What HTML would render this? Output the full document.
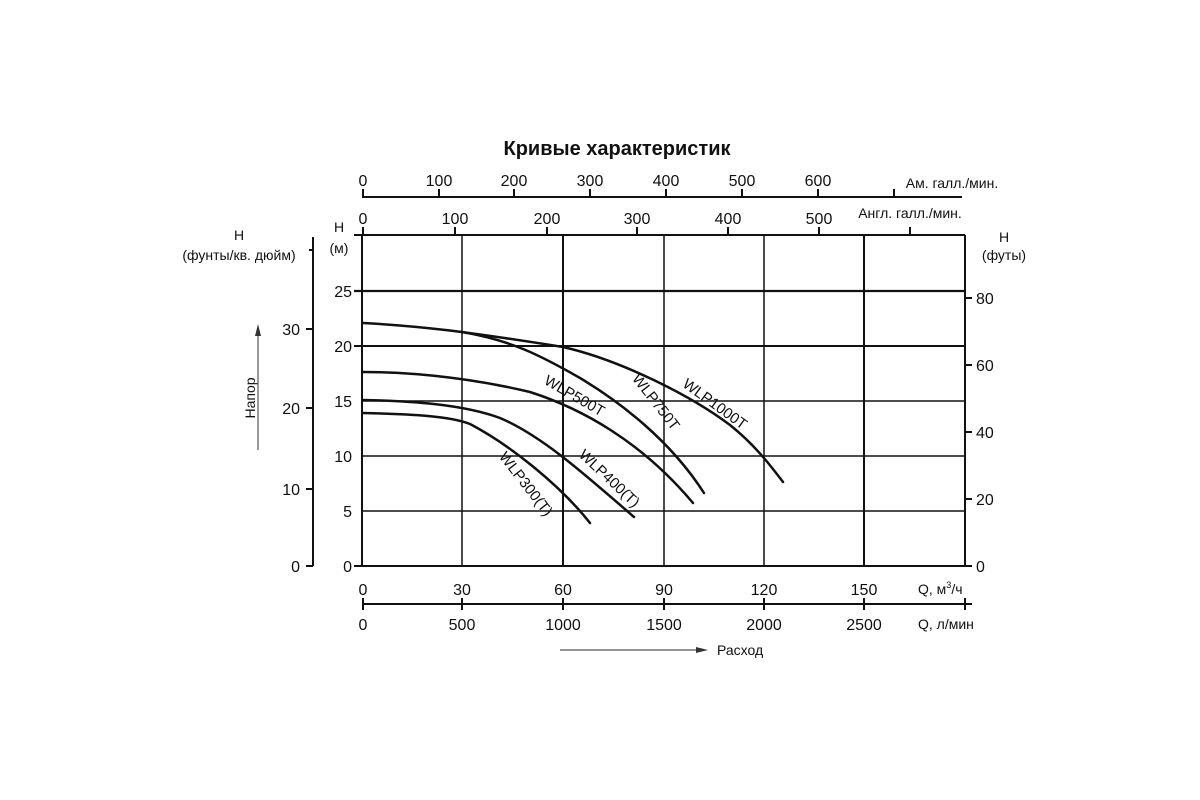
<!DOCTYPE html>
<html><head><meta charset="utf-8"><style>
html,body{margin:0;padding:0;background:#fff;}
svg{display:block;font-family:"Liberation Sans",sans-serif;}
</style></head><body>
<svg width="1200" height="800" viewBox="0 0 1200 800">
<rect width="1200" height="800" fill="#fff"/>
<text x="617" y="155" font-size="20" font-weight="bold" text-anchor="middle" fill="#111">Кривые характеристик</text>
<!-- Am gal axis -->
<g stroke="#111" stroke-width="2">
<line x1="362" y1="197" x2="962" y2="197"/>
<line x1="363" y1="189" x2="363" y2="197"/><line x1="439" y1="189" x2="439" y2="197"/><line x1="514" y1="189" x2="514" y2="197"/><line x1="590" y1="189" x2="590" y2="197"/><line x1="666" y1="189" x2="666" y2="197"/><line x1="742" y1="189" x2="742" y2="197"/><line x1="818" y1="189" x2="818" y2="197"/><line x1="894" y1="189" x2="894" y2="197"/>
</g>
<g font-size="16" fill="#111" text-anchor="middle">
<text x="363" y="186">0</text><text x="439" y="186">100</text><text x="514" y="186">200</text><text x="590" y="186">300</text><text x="666" y="186">400</text><text x="742" y="186">500</text><text x="818" y="186">600</text>
<text x="952" y="188" font-size="14">Ам. галл./мин.</text>
<text x="363" y="224">0</text><text x="455" y="224">100</text><text x="547" y="224">200</text><text x="637" y="224">300</text><text x="728" y="224">400</text><text x="819" y="224">500</text>
<text x="910" y="218" font-size="14">Англ. галл./мин.</text>
</g>
<g stroke="#111" stroke-width="2">
<line x1="363" y1="227" x2="363" y2="235"/><line x1="455" y1="227" x2="455" y2="235"/><line x1="547" y1="227" x2="547" y2="235"/><line x1="637" y1="227" x2="637" y2="235"/><line x1="728" y1="227" x2="728" y2="235"/><line x1="819" y1="227" x2="819" y2="235"/><line x1="910" y1="227" x2="910" y2="235"/>
</g>
<!-- grid -->
<g stroke="#111" stroke-width="1.5">
<line x1="462" y1="235" x2="462" y2="566"/><line x1="563" y1="235" x2="563" y2="566" stroke-width="2"/><line x1="664" y1="235" x2="664" y2="566"/><line x1="764" y1="235" x2="764" y2="566"/><line x1="864" y1="235" x2="864" y2="566" stroke-width="2"/>
<line x1="362" y1="511" x2="965" y2="511"/><line x1="362" y1="456" x2="965" y2="456"/><line x1="362" y1="401" x2="965" y2="401"/>
<line x1="354" y1="346" x2="965" y2="346" stroke-width="2"/><line x1="354" y1="291" x2="965" y2="291" stroke-width="2.2"/>
<line x1="354" y1="235" x2="965" y2="235" stroke-width="2"/>
<line x1="362" y1="235" x2="362" y2="566" stroke-width="2"/><line x1="965" y1="235" x2="965" y2="566" stroke-width="2"/>
<line x1="354" y1="566" x2="972" y2="566" stroke-width="2"/>
</g>
<g font-size="16" fill="#111" text-anchor="end">
<text x="352" y="572">0</text><text x="352" y="517">5</text><text x="352" y="462">10</text><text x="352" y="407">15</text><text x="352" y="352">20</text><text x="352" y="297">25</text>
</g>
<text x="339" y="232" font-size="14" text-anchor="middle" fill="#111">H</text>
<text x="339" y="253" font-size="14" text-anchor="middle" fill="#111">(м)</text>
<!-- psi axis -->
<g stroke="#111" stroke-width="2">
<line x1="313" y1="237" x2="313" y2="566"/>
<line x1="306" y1="566" x2="313" y2="566"/><line x1="306" y1="489" x2="313" y2="489"/><line x1="306" y1="408" x2="313" y2="408"/><line x1="306" y1="329" x2="313" y2="329"/><line x1="309" y1="250" x2="313" y2="250"/>
</g>
<g font-size="16" fill="#111" text-anchor="end">
<text x="300" y="572">0</text><text x="300" y="495">10</text><text x="300" y="414">20</text><text x="300" y="335">30</text>
</g>
<text x="239" y="240" font-size="14" text-anchor="middle" fill="#111">H</text>
<text x="239" y="260" font-size="14" text-anchor="middle" fill="#111">(фунты/кв. дюйм)</text>
<text transform="translate(255,398) rotate(-90)" font-size="14" text-anchor="middle" fill="#111">Напор</text>
<line x1="258" y1="450" x2="258" y2="335" stroke="#555" stroke-width="1.2"/>
<polygon points="258,324 255,336 261,336" fill="#333"/>
<!-- ft axis -->
<g stroke="#111" stroke-width="2">
<line x1="965" y1="566" x2="972" y2="566"/><line x1="965" y1="499" x2="972" y2="499"/><line x1="965" y1="432" x2="972" y2="432"/><line x1="965" y1="365" x2="972" y2="365"/><line x1="965" y1="298" x2="972" y2="298"/>
</g>
<g font-size="16" fill="#111">
<text x="976" y="572">0</text><text x="976" y="505">20</text><text x="976" y="438">40</text><text x="976" y="371">60</text><text x="976" y="304">80</text>
</g>
<text x="1004" y="242" font-size="14" text-anchor="middle" fill="#111">H</text>
<text x="1004" y="260" font-size="14" text-anchor="middle" fill="#111">(футы)</text>
<!-- bottom -->
<g font-size="16" fill="#111" text-anchor="middle">
<text x="363" y="595">0</text><text x="462" y="595">30</text><text x="563" y="595">60</text><text x="664" y="595">90</text><text x="764" y="595">120</text><text x="864" y="595">150</text>
<text x="363" y="630">0</text><text x="462" y="630">500</text><text x="563" y="630">1000</text><text x="664" y="630">1500</text><text x="764" y="630">2000</text><text x="864" y="630">2500</text>
</g>
<text x="918" y="594" font-size="14" fill="#111">Q, м<tspan font-size="9" dy="-6">3</tspan><tspan dy="6">/ч</tspan></text>
<text x="918" y="629" font-size="14" fill="#111">Q, л/мин</text>
<g stroke="#111" stroke-width="2">
<line x1="362" y1="604" x2="972" y2="604"/>
<line x1="363" y1="598" x2="363" y2="610"/><line x1="462" y1="598" x2="462" y2="610"/><line x1="563" y1="598" x2="563" y2="610"/><line x1="664" y1="598" x2="664" y2="610"/><line x1="764" y1="598" x2="764" y2="610"/><line x1="864" y1="598" x2="864" y2="610"/><line x1="965" y1="598" x2="965" y2="610"/>
</g>
<line x1="560" y1="650" x2="698" y2="650" stroke="#555" stroke-width="1.2"/>
<polygon points="708,650 696,647 696,653" fill="#333"/>
<text x="717" y="655" font-size="14" fill="#111">Расход</text>
<!-- curves -->
<g fill="none" stroke="#111" stroke-width="2.5" stroke-linecap="round">
<path d="M363,323 C420,326 462,331 563,347 C620,360 690,395 730,425 C755,445 770,465 783,482"/>
<path d="M462,332 C510,340 540,355 580,378 C620,402 670,440 704,493"/>
<path d="M363,372 C420,372 480,380 530,392 C580,408 640,440 693,503"/>
<path d="M363,400 C410,401 462,404 500,418 C540,435 580,470 634,517"/>
<path d="M363,413 C410,414 450,416 470,424 C510,445 560,485 590,523"/>
</g>
<g font-size="15" fill="#111" text-anchor="middle">
<text transform="translate(712,408) rotate(36)">WLP1000T</text>
<text transform="translate(652,405) rotate(52)">WLP750T</text>
<text transform="translate(572,400) rotate(30)">WLP500T</text>
<text transform="translate(606,482) rotate(43)">WLP400(T)</text>
<text transform="translate(522,487) rotate(52)">WLP300(T)</text>
</g>
</svg>
</body></html>
